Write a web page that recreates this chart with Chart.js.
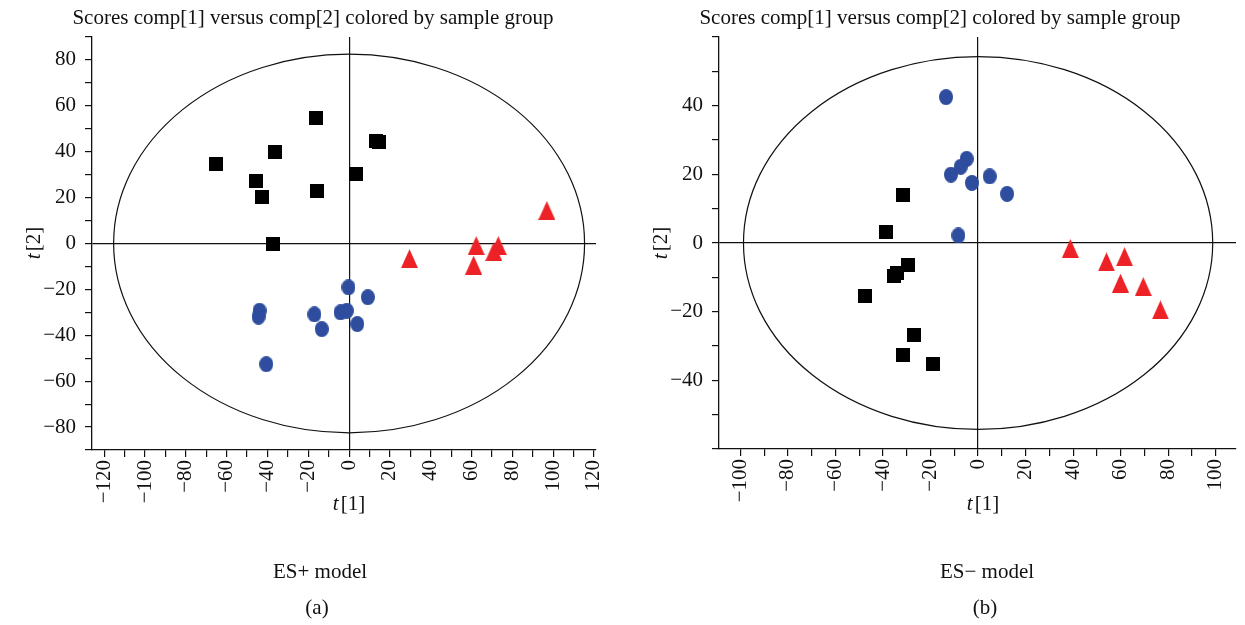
<!DOCTYPE html>
<html>
<head>
<meta charset="utf-8">
<script src="https://cdn.jsdelivr.net/npm/chart.js@4.4.1/dist/chart.umd.min.js"></script>
<style>
  body { margin: 0; background: #fff; width: 1245px; height: 625px; overflow: hidden; position: relative;
         font-family: "Liberation Serif", "DejaVu Serif", serif; color: #111; }
  .box { position: absolute; top: 0; height: 625px; }
  .lbl { position: absolute; width: 600px; text-align: center; font-size: 21px; line-height: 24px; white-space: nowrap; }
  .lbl i { margin-right: 2px; }
  .rot { transform: rotate(-90deg); }
</style>
</head>
<body>
<div class="box" style="left:0;width:620px"><canvas id="esPos" width="620" height="625"></canvas></div>
<div class="box" style="left:620px;width:625px"><canvas id="esNeg" width="625" height="625"></canvas></div>

<div class="lbl" style="left:13px;top:5px">Scores comp[1] versus comp[2] colored by sample group</div>
<div class="lbl" style="left:640px;top:5px">Scores comp[1] versus comp[2] colored by sample group</div>
<div class="lbl rot" style="left:-267px;top:231px"><i>t</i>[2]</div>
<div class="lbl rot" style="left:360px;top:231px"><i>t</i>[2]</div>
<div class="lbl" style="left:49px;top:491px"><i>t</i>[1]</div>
<div class="lbl" style="left:683px;top:491px"><i>t</i>[1]</div>
<div class="lbl" style="left:20px;top:559px">ES+ model</div>
<div class="lbl" style="left:687px;top:559px">ES&minus; model</div>
<div class="lbl" style="left:17px;top:595px">(a)</div>
<div class="lbl" style="left:685px;top:595px">(b)</div>

<script>
// ES+ model scores
const posSquaresX = [-65, -45.7, -42.5, -36.1, -37.4, -16.3, -15.5, 3.6, 13.3, 14.8];
const posSquaresY = [34.7, 27.4, 20.3, 39.9, -0.3, 54.6, 23.0, 30.2, 44.8, 44.4];
const posCirclesX = [-0.3, 9.2, -4.2, -1.1, 4.0, -17, -13.4, -43.9, -44.4, -40.6];
const posCirclesY = [-19.1, -23.4, -30, -29.3, -35.1, -30.9, -37.3, -29.3, -31.9, -52.6];
const posTrianglesX = [96.9, 29.6, 62.3, 73.1, 70.9, 61];
const posTrianglesY = [14.4, -6.6, -0.9, -0.9, -3.5, -9.4];

// ES- model scores
const negSquaresX = [-31.5, -38.9, -29.5, -35.3, -34.1, -47.7, -27.0, -31.7, -19.0];
const negSquaresY = [14.1, 3.2, -6.4, -9.5, -8.8, -15.3, -26.9, -32.7, -35.3];
const negCirclesX = [-13.5, -4.8, -7.3, -11.4, -2.6, 4.9, 12.2, -8.3];
const negCirclesY = [42.5, 24.5, 22.2, 19.9, 17.5, 19.4, 14.3, 2.2];
const negTrianglesX = [38.8, 54, 61.6, 59.9, 69.5, 76.7];
const negTrianglesY = [-1.6, -5.5, -4.0, -11.7, -12.7, -19.5];

// axis ticks
const posXTicks = [-120, -110, -100, -90, -80, -70, -60, -50, -40, -30, -20, -10, 0, 10, 20, 30, 40, 50, 60, 70, 80, 90, 100, 110, 120];
const posYTicks = [-90, -80, -70, -60, -50, -40, -30, -20, -10, 0, 10, 20, 30, 40, 50, 60, 70, 80, 90];
const negXTicks = [-100, -90, -80, -70, -60, -50, -40, -30, -20, -10, 0, 10, 20, 30, 40, 50, 60, 70, 80, 90, 100];
const negYTicks = [-60, -50, -40, -30, -20, -10, 0, 10, 20, 30, 40, 50, 60];

// Hotelling ellipse semi axes (t1, t2)
const posEllipse = [115.4, 82.5];
const negEllipse = [98.7, 54.3];

const INK = '#111';
const RED = '#ec2227';
const BLUE = '#2e4d9e';

function marker(w, h, color, shape) {
  const c = document.createElement('canvas');
  c.width = w; c.height = h;
  const g = c.getContext('2d');
  g.fillStyle = color;
  g.beginPath();
  if (shape === 'tri') {
    g.moveTo(w / 2, 0); g.lineTo(w, h); g.lineTo(0, h); g.closePath();
  } else if (shape === 'oval') {
    g.ellipse(w / 2, h / 2, w / 2, h / 2, 0, 0, Math.PI * 2);
  } else {
    g.rect(0, 0, w, h);
  }
  g.fill();
  return c;
}

const squareImg = marker(14, 14, '#000', 'rect');
const ovalImg = marker(14, 16, BLUE, 'oval');
const triImg = marker(17, 19, RED, 'tri');

const fmt = v => v < 0 ? '\u2212' + Math.abs(v) : String(v);
const pts = (xs, ys) => xs.map((x, i) => ({ x: x, y: ys[i] }));

const ellipsePlugin = {
  id: 'hotelling',
  beforeDatasetsDraw(chart, args, opts) {
    const { ctx, scales: { x, y } } = chart;
    const cx = x.getPixelForValue(0), cy = y.getPixelForValue(0);
    const rx = x.getPixelForValue(opts.axes[0]) - cx;
    const ry = cy - y.getPixelForValue(opts.axes[1]);
    ctx.save();
    ctx.strokeStyle = INK;
    ctx.lineWidth = 1.2;
    ctx.beginPath();
    ctx.ellipse(cx, cy, rx, ry, 0, 0, Math.PI * 2);
    ctx.stroke();
    ctx.restore();
  }
};

function scoresChart(id, d) {
  const tickFont = { family: 'Liberation Serif', size: 21 };
  const zeroLine = c => (c.tick && c.tick.value === 0) ? INK : 'rgba(0,0,0,0)';
  return new Chart(document.getElementById(id), {
    type: 'scatter',
    data: {
      datasets: [
        { data: pts(d.sqX, d.sqY), pointStyle: squareImg, pointRadius: 7 },
        { data: pts(d.ciX, d.ciY), pointStyle: ovalImg, pointRadius: 7 },
        { data: pts(d.trX, d.trY), pointStyle: triImg, pointRadius: 8 }
      ]
    },
    options: {
      responsive: false,
      devicePixelRatio: 1,
      animation: false,
      layout: { padding: { top: 37, right: d.padRight, left: 0, bottom: 0 } },
      plugins: {
        legend: { display: false },
        tooltip: { enabled: false },
        hotelling: { axes: d.ellipse }
      },
      scales: {
        x: {
          type: 'linear', min: d.xMin, max: d.xMax,
          afterBuildTicks: s => { s.ticks = d.xTicks.map(v => ({ value: v })); },
          afterFit: s => { s.height = d.xHeight; s.paddingLeft = 0; s.paddingRight = 0; },
          border: { color: INK, width: 1.3 },
          grid: { color: zeroLine, lineWidth: 1.2, tickColor: INK, tickLength: 7 },
          ticks: {
            autoSkip: false, minRotation: 90, maxRotation: 90, padding: 3, color: INK, font: tickFont,
            callback: v => v % 20 === 0 ? fmt(v) : ''
          }
        },
        y: {
          type: 'linear', min: d.yMin, max: d.yMax,
          afterBuildTicks: s => { s.ticks = d.yTicks.map(v => ({ value: v })); },
          afterFit: s => { s.width = d.yWidth; s.paddingTop = 0; s.paddingBottom = 0; },
          border: { color: INK, width: 1.3 },
          grid: { color: zeroLine, lineWidth: 1.2, tickColor: INK, tickLength: 7 },
          ticks: {
            autoSkip: false, padding: 9, color: INK, font: tickFont,
            callback: v => (v % 20 === 0 && Math.abs(v) < d.yLabelLimit) ? fmt(v) : ''
          }
        }
      }
    },
    plugins: [ellipsePlugin]
  });
}

scoresChart('esPos', {
  sqX: posSquaresX, sqY: posSquaresY, ciX: posCirclesX, ciY: posCirclesY, trX: posTrianglesX, trY: posTrianglesY,
  xTicks: posXTicks, yTicks: posYTicks, ellipse: posEllipse,
  xMin: -126, xMax: 121, yMin: -90, yMax: 90, yLabelLimit: 90,
  yWidth: 92, xHeight: 175, padRight: 24
});

scoresChart('esNeg', {
  sqX: negSquaresX, sqY: negSquaresY, ciX: negCirclesX, ciY: negCirclesY, trX: negTrianglesX, trY: negTrianglesY,
  xTicks: negXTicks, yTicks: negYTicks, ellipse: negEllipse,
  xMin: -109, xMax: 108.5, yMin: -60, yMax: 60, yLabelLimit: 60,
  yWidth: 99, xHeight: 176, padRight: 0
});
</script>
</body>
</html>
